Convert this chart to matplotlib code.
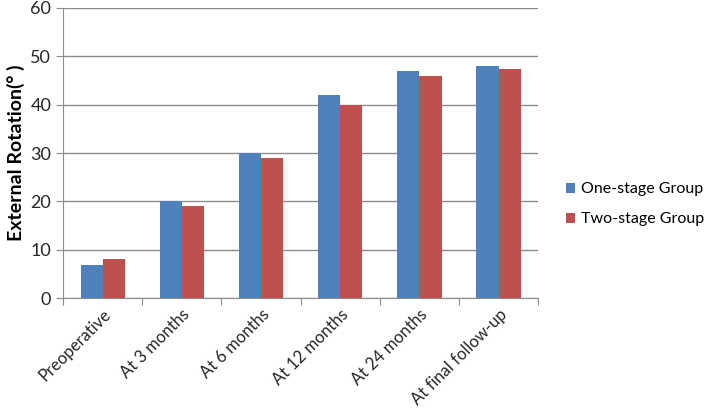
import numpy as np
import matplotlib
matplotlib.use('Agg')
import matplotlib.pyplot as plt

# Data
categories = ['Preoperative', 'At 3 months', 'At 6 months', 'At 12 months',
              'At 24 months', 'At final follow-up']
one_stage = [6.8, 20, 30, 42, 47, 48]
two_stage = [8, 19, 29, 40, 46, 47.4]
series_names = ['One-stage Group', 'Two-stage Group']

BLUE = '#4F81BD'
RED = '#C0504D'
GRID = '#8C8C8C'

plt.rcParams['font.family'] = ['Lato', 'DejaVu Sans']

fig = plt.figure(figsize=(7.09, 4.13), dpi=100)
ax = fig.add_axes([0.089, 0.278, 0.67, 0.703])

x = np.arange(len(categories))
width = 0.28
ax.bar(x - width / 2, one_stage, width, color=BLUE, label=series_names[0], zorder=3)
ax.bar(x + width / 2, two_stage, width, color=RED, label=series_names[1], zorder=3)

ax.set_xlim(-0.5, len(categories) - 0.5)
ax.set_ylim(0, 60)
ax.set_yticks(range(0, 61, 10))
ax.yaxis.grid(True, color=GRID, linewidth=1, zorder=0)

# category boundary ticks on x axis, labels at centers
ax.set_xticks(np.arange(-0.5, len(categories)), minor=False)
ax.set_xticklabels([])
ax.set_xticks(x, minor=True)
ax.set_xticklabels(categories, minor=True, rotation=45, ha='right',
                   rotation_mode='anchor', fontsize=12, color='#262626')
ax.tick_params(axis='x', which='minor', length=0, pad=6)
ax.tick_params(axis='x', which='major', length=5, color=GRID, direction='out')
ax.tick_params(axis='y', length=5, color=GRID, direction='out', labelsize=13,
               labelcolor='#262626')

for side in ['top', 'right']:
    ax.spines[side].set_visible(False)
ax.spines['left'].set_color(GRID)
ax.spines['bottom'].set_color(GRID)

ax.set_ylabel('External Rotation(° )', fontsize=14, fontweight='bold', labelpad=4)

fig.legend(loc='center left', bbox_to_anchor=(0.798, 0.505), frameon=False,
           fontsize=11.5, handlelength=0.6, handleheight=0.6, handletextpad=0.35,
           labelspacing=1.0, borderaxespad=0, borderpad=0)

fig.savefig('out.png', dpi=100)
